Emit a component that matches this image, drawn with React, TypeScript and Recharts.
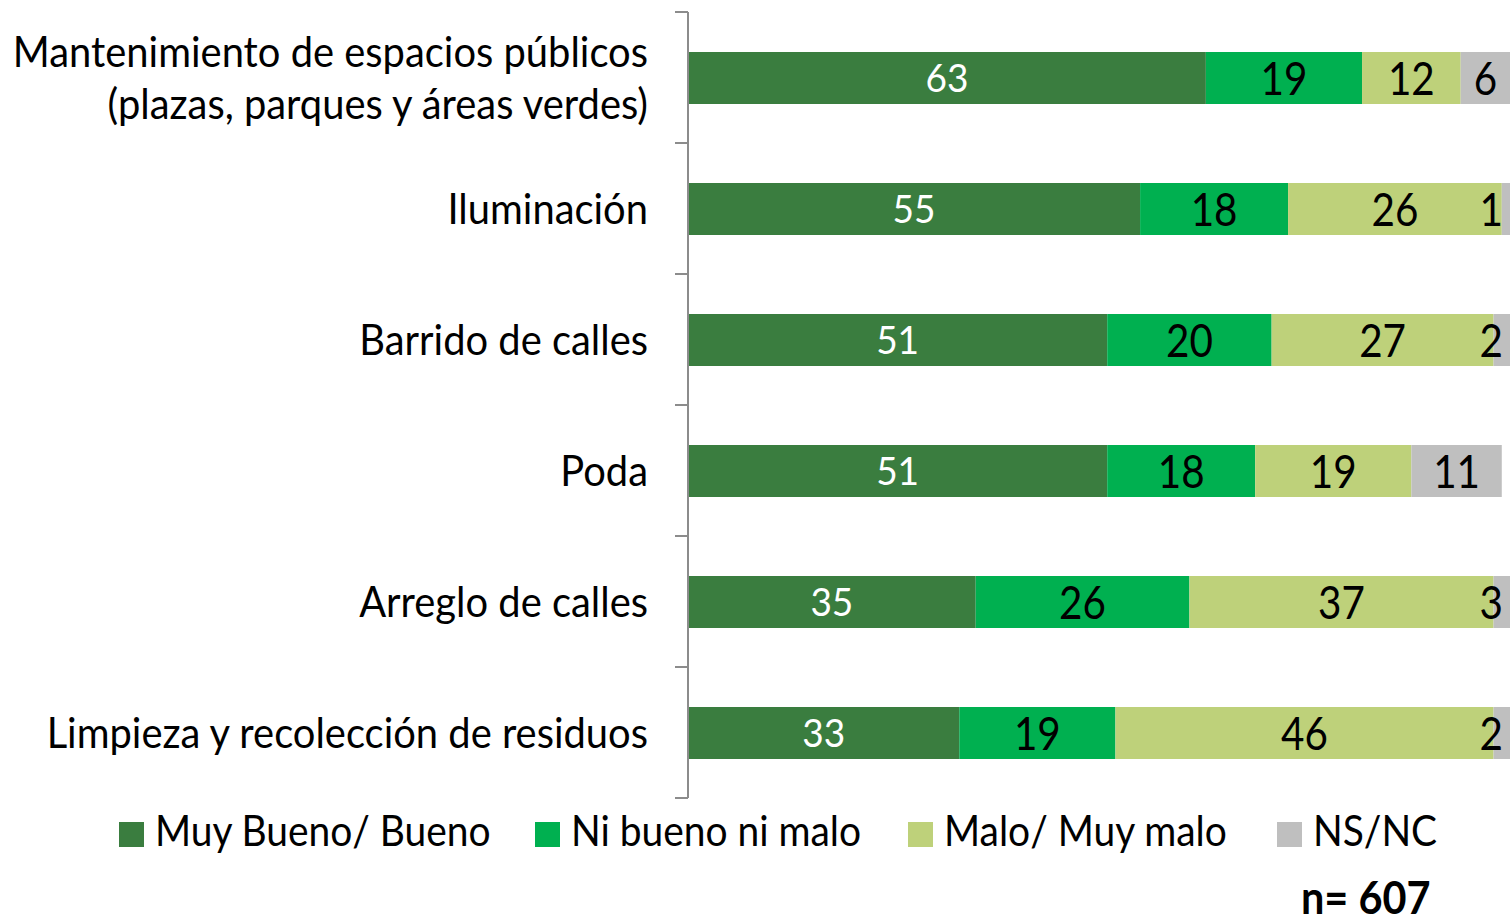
import React from 'react';
import { BarChart, Bar, XAxis, YAxis, LabelList, Legend } from 'recharts';

const categories = [
  'Mantenimiento de espacios públicos\n(plazas, parques y áreas verdes)',
  'Iluminación',
  'Barrido de calles',
  'Poda',
  'Arreglo de calles',
  'Limpieza y recolección de residuos',
];
const muyBueno = [63, 55, 51, 51, 35, 33];
const niBueno = [19, 18, 20, 18, 26, 19];
const malo = [12, 26, 27, 19, 37, 46];
const nsnc = [6, 1, 2, 11, 3, 2];
const seriesNames = ['Muy Bueno/ Bueno', 'Ni bueno ni malo', 'Malo/ Muy malo', 'NS/NC'];
const seriesKeys = ['a', 'b', 'c', 'd'];
const seriesColors = ['#3A7D3F', '#00B050', '#BED17A', '#BFBFBF'];
const sampleNote = 'n= 607';

const data = categories.map((name, i) => ({
  name,
  a: muyBueno[i],
  b: niBueno[i],
  c: malo[i],
  d: nsnc[i],
}));

const W = 1510;
const H = 918;
const M = { top: 12, right: 0, bottom: 120, left: 0 };
const AXIS_W = 688;
const BAND = (H - M.top - M.bottom) / categories.length;
const FONT = 'Lato, "Open Sans", sans-serif';
const SX_CAT = 0.95;
const SX_LEG = 0.905;
const SX_LAB = 0.86;
const SX_LAB_W = 0.95;
const SX_NOTE = 0.9;

const CategoryTick = (props: any) => {
  const { y, payload, index } = props;
  const lines = String(payload.value).split('\n');
  const axisX = AXIS_W;
  const tx = axisX - 40;
  const lh = 52;
  return (
    <g>
      <line x1={axisX - 13} x2={axisX} y1={y - BAND / 2} y2={y - BAND / 2} stroke="#8C8C8C" strokeWidth={2} />
      {index === categories.length - 1 && (
        <line x1={axisX - 13} x2={axisX} y1={y + BAND / 2} y2={y + BAND / 2} stroke="#8C8C8C" strokeWidth={2} />
      )}
      {lines.map((ln, i) => (
        <g key={i} transform={`translate(${tx},${y + (i - (lines.length - 1) / 2) * lh})`}>
          <text transform={`scale(${SX_CAT},1)`} textAnchor="end" dy="0.36em" fontFamily={FONT} fontSize={42} fill="#000">
            {ln}
          </text>
        </g>
      ))}
    </g>
  );
};

const makeLabel = (color: string, size: number, sx: number, clampRight: boolean) => (props: any) => {
  const { x, y, width, height, value } = props;
  if (value == null) return null;
  const s = String(value);
  let cx = Number(x) + Number(width) / 2;
  const half = (s.length * 0.58 * size * sx) / 2;
  if (clampRight) {
    const maxC = W - M.right - 7 - half;
    if (cx > maxC) cx = maxC;
  }
  const cy = Number(y) + Number(height) / 2;
  return (
    <g transform={`translate(${cx},${cy})`}>
      <text transform={`scale(${sx},1)`} textAnchor="middle" dy="0.36em" fontFamily={FONT} fontSize={size} fill={color}>
        {s}
      </text>
    </g>
  );
};

const legendStarts = [119, 535, 908, 1277];

const LegendContent = () => (
  <div style={{ position: 'relative', height: 43, width: W }}>
    {seriesNames.map((n, i) => (
      <div
        key={n}
        style={{ position: 'absolute', left: legendStarts[i], top: 0, height: 43, display: 'flex', alignItems: 'center' }}
      >
        <div style={{ width: 25, height: 25, background: seriesColors[i] }} />
        <span
          style={{
            display: 'inline-block',
            marginLeft: 11,
            fontFamily: FONT,
            fontSize: 43,
            lineHeight: 1,
            whiteSpace: 'nowrap',
            position: 'relative',
            top: -5,
            transform: `scaleX(${SX_LEG})`,
            transformOrigin: 'left center',
            color: '#000',
          }}
        >
          {n}
        </span>
      </div>
    ))}
  </div>
);

export default function App() {
  return (
    <div style={{ position: 'absolute', left: 0, top: 0, width: W, height: H, background: '#fff', overflow: 'hidden' }}>
      <BarChart width={W} height={H} data={data} layout="vertical" margin={M} barSize={52}>
        <XAxis type="number" domain={[0, 100]} allowDataOverflow hide />
        <YAxis
          type="category"
          dataKey="name"
          width={AXIS_W}
          axisLine={{ stroke: '#8C8C8C', strokeWidth: 2 }}
          tickLine={false}
          tick={<CategoryTick />}
          interval={0}
        />
        <Legend
          layout="horizontal"
          verticalAlign="middle"
          align="center"
          wrapperStyle={{ position: 'absolute', top: 813, left: 0, width: W, height: 43 }}
          content={<LegendContent />}
        />
        {seriesKeys.map((k, i) => (
          <Bar key={k} dataKey={k} stackId="s" fill={seriesColors[i]} isAnimationActive={false} name={seriesNames[i]}>
            <LabelList
              dataKey={k}
              content={makeLabel(
                i === 0 ? '#FFFFFF' : '#000000',
                i === 0 ? 39 : 47,
                i === 0 ? SX_LAB_W : SX_LAB,
                i === 3
              )}
            />
          </Bar>
        ))}
      </BarChart>
      <div
        style={{
          position: 'absolute',
          left: 1301,
          top: 876,
          fontFamily: FONT,
          fontWeight: 700,
          fontSize: 46,
          lineHeight: 0.9,
          whiteSpace: 'nowrap',
          transform: `scaleX(${SX_NOTE})`,
          transformOrigin: 'left top',
        }}
      >
        {sampleNote}
      </div>
    </div>
  );
}
